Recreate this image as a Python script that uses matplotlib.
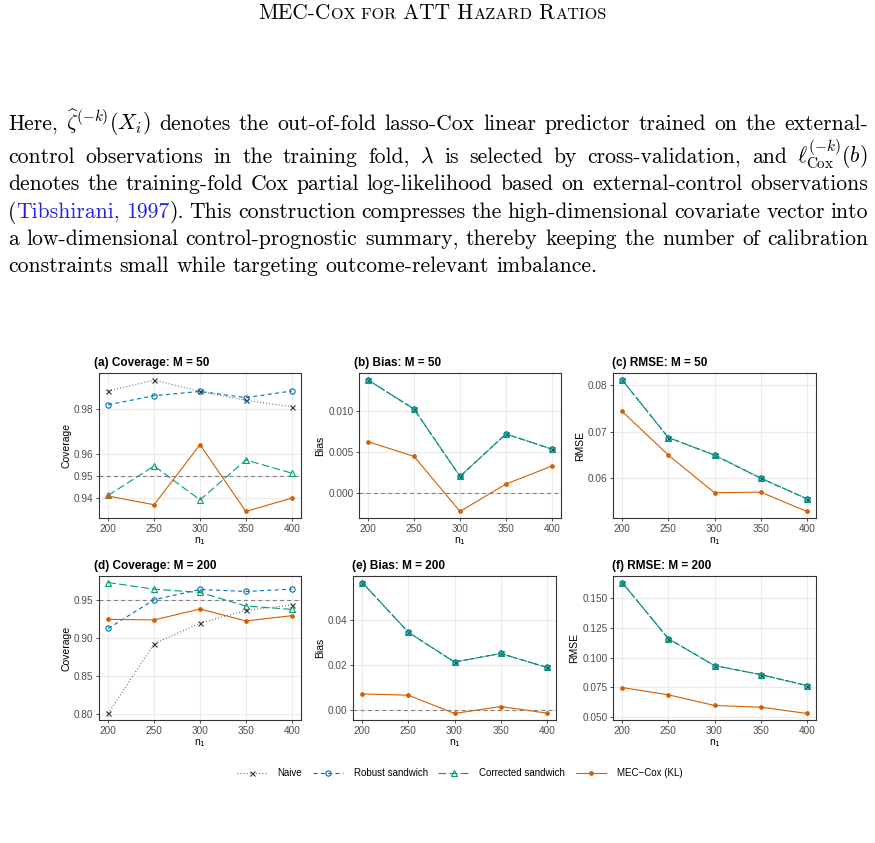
"""Page excerpt: MEC-Cox simulation figure (coverage, bias, RMSE) with surrounding text."""

import re

import matplotlib

matplotlib.use("Agg")
import matplotlib.pyplot as plt

W_PX, H_PX = 875, 843

N1 = [200, 250, 300, 350, 400]
METHODS = ["Naive", "Robust sandwich", "Corrected sandwich", "MEC\u2212Cox (KL)"]

# (a) coverage, M = 50
cov50_naive = [0.9881, 0.9930, 0.9879, 0.9839, 0.9810]
cov50_robust = [0.9819, 0.9860, 0.9879, 0.9851, 0.9881]
cov50_corrected = [0.9412, 0.9544, 0.9392, 0.9571, 0.9512]
cov50_mec = [0.9409, 0.9370, 0.9640, 0.9340, 0.9400]
cov50_ticks = [0.94, 0.95, 0.96, 0.98]
cov50_labels = ["0.94", "0.95", "0.96", "0.98"]

# (b) bias, M = 50 -- the three variance methods share one point estimate
bias50_shared = [0.01378, 0.01024, 0.00203, 0.00720, 0.00537]
bias50_mec = [0.00626, 0.00447, -0.00224, 0.00110, 0.00329]
bias50_ticks = [0.000, 0.005, 0.010]
bias50_labels = ["0.000", "0.005", "0.010"]

# (c) rmse, M = 50
rmse50_shared = [0.08116, 0.06870, 0.06491, 0.05993, 0.05545]
rmse50_mec = [0.07437, 0.06491, 0.05675, 0.05690, 0.05271]
rmse50_ticks = [0.06, 0.07, 0.08]
rmse50_labels = ["0.06", "0.07", "0.08"]

# (d) coverage, M = 200
cov200_naive = [0.8013, 0.8930, 0.9201, 0.9369, 0.9439]
cov200_robust = [0.9131, 0.9509, 0.9644, 0.9618, 0.9648]
cov200_corrected = [0.9735, 0.9648, 0.9605, 0.9426, 0.9382]
cov200_mec = [0.9251, 0.9243, 0.9387, 0.9230, 0.9299]
cov200_ticks = [0.80, 0.85, 0.90, 0.95]
cov200_labels = ["0.80", "0.85", "0.90", "0.95"]

# (e) bias, M = 200
bias200_shared = [0.05635, 0.03445, 0.02131, 0.02511, 0.01898]
bias200_mec = [0.00730, 0.00672, -0.00131, 0.00175, -0.00117]
bias200_ticks = [0.00, 0.02, 0.04]
bias200_labels = ["0.00", "0.02", "0.04"]

# (f) rmse, M = 200
rmse200_shared = [0.16348, 0.11601, 0.09326, 0.08567, 0.07640]
rmse200_mec = [0.07472, 0.06854, 0.05955, 0.05815, 0.05281]
rmse200_ticks = [0.050, 0.075, 0.100, 0.125, 0.150]
rmse200_labels = ["0.050", "0.075", "0.100", "0.125", "0.150"]

HEADER = [("MEC-C", 1), ("OX FOR", 0), (" ATT H", 1), ("AZARD", 0), (" R", 1), ("ATIOS", 0)]
PARAGRAPH = [
    r"Here, $\widehat{\zeta}^{(-k)}(X_i)$ denotes the out-of-fold lasso-Cox linear predictor trained on the external-",
    r"control observations in the training fold, $\lambda$ is selected by cross-validation, and $\ell^{(-k)}_{\mathrm{Cox}}(b)$",
    "denotes the training-fold Cox partial log-likelihood based on external-control observations",
    "(<Tibshirani,> <1997>). This construction compresses the high-dimensional covariate vector into",
    "a low-dimensional control-prognostic summary, thereby keeping the number of calibration",
    "constraints small while targeting outcome-relevant imbalance.",
]
PARA_BASELINES = [130, 163, 190, 217.5, 245, 272]

STYLES = {
    "Naive": dict(color="#555555", dashes=(0.8, 2.0), marker="x", ms=3.6, mfc="none",
                  mec="#333333", mew=0.8),
    "Robust sandwich": dict(color="#0072B2", dashes=(3.6, 3.0), marker="o", ms=3.8,
                            mfc="none", mew=0.8),
    "Corrected sandwich": dict(color="#009E73", dashes=(7.0, 3.0), marker="^", ms=4.6,
                               mfc="none", mew=0.8),
    "MEC\u2212Cox (KL)": dict(color="#D55E00", ls="-", marker="o", ms=3.4, mew=0),
}

fig = plt.figure(figsize=(W_PX / 100, H_PX / 100), dpi=100)
renderer = fig.canvas.get_renderer()


def fx(x):
    return x / W_PX


def fy(y):
    return 1 - y / H_PX


def put(x, y, s, **kw):
    return fig.text(fx(x), fy(y), s, ha="left", va="baseline", **kw)


def width(t):
    return t.get_window_extent(renderer).width


# running header in faked small caps
HEAD_SIZE = 15.4
pieces = [put(0, 19, s, family="cmr10", size=HEAD_SIZE * (1 if big else 0.76)) for s, big in HEADER]
total = sum(width(p) for p in pieces)
x = 432.5 - total / 2
for p in pieces:
    p.set_x(fx(x))
    x += width(p)

# justified paragraph
PARA = dict(family="cmr10", size=15.6, math_fontfamily="cm")
LINK = "#2323E0"
LEFT, RIGHT = 8, 868
for i, (line, base) in enumerate(zip(PARAGRAPH, PARA_BASELINES)):
    words = []
    for w in line.split(" "):
        segs = []
        for part in re.split(r"(<[^>]*>)", w):
            if not part:
                continue
            if part.startswith("<"):
                segs.append(put(0, base, part[1:-1], color=LINK, **PARA))
            else:
                segs.append(put(0, base, part, color="black", **PARA))
        words.append(segs)
    widths = [sum(width(s) for s in segs) for segs in words]
    if i < len(PARAGRAPH) - 1:
        gap = (RIGHT - LEFT - sum(widths)) / (len(words) - 1)
    else:
        gap = 0.333 * PARA["size"] * 100 / 72
    x = LEFT
    for segs, wd in zip(words, widths):
        xx = x
        for s in segs:
            s.set_x(fx(xx))
            xx += width(s)
        x += wd + gap

# panels: (left, top, right, bottom) in pixels, title x in pixels
panels = [
    ("(a) Coverage: M = 50", "Coverage", (99, 373.5, 301, 518), 94,
     [cov50_naive, cov50_robust, cov50_corrected, cov50_mec], 0.95, cov50_ticks, cov50_labels),
    ("(b) Bias: M = 50", "Bias", (359, 373.5, 561, 518), 354,
     [bias50_shared, bias50_shared, bias50_shared, bias50_mec], 0.0, bias50_ticks, bias50_labels),
    ("(c) RMSE: M = 50", "RMSE", (613, 373.5, 816, 518), 612,
     [rmse50_shared, rmse50_shared, rmse50_shared, rmse50_mec], None, rmse50_ticks, rmse50_labels),
    ("(d) Coverage: M = 200", "Coverage", (99, 576, 301, 720), 94,
     [cov200_naive, cov200_robust, cov200_corrected, cov200_mec], 0.95, cov200_ticks, cov200_labels),
    ("(e) Bias: M = 200", "Bias", (353, 576, 556, 720), 352,
     [bias200_shared, bias200_shared, bias200_shared, bias200_mec], 0.0, bias200_ticks, bias200_labels),
    ("(f) RMSE: M = 200", "RMSE", (613, 576, 816, 720), 612,
     [rmse200_shared, rmse200_shared, rmse200_shared, rmse200_mec], None, rmse200_ticks, rmse200_labels),
]

SANS = "Liberation Sans"
handles = []
for title, ylabel, (l, t, r, b), tx, series, ref, ticks, labels in panels:
    ax = fig.add_axes([fx(l), fy(b), (r - l) / W_PX, (b - t) / H_PX])
    lines = []
    for name, ys in zip(METHODS, series):
        (ln,) = ax.plot(N1, ys, lw=0.8, label=name, zorder=3, **STYLES[name])
        lines.append(ln)
    if ref is not None:
        ax.axhline(ref, color="#7F7F7F", lw=0.8, dashes=(3.5, 3.0), zorder=2)
    handles = lines
    ax.set_xticks(N1)
    ax.set_xticklabels([str(v) for v in N1])
    ax.set_yticks(ticks)
    ax.set_yticklabels(labels)
    ax.grid(True, color="#EBEBEB", lw=0.8)
    ax.set_axisbelow(True)
    for sp in ax.spines.values():
        sp.set_color("#333333")
        sp.set_linewidth(0.8)
    ax.tick_params(length=2.5, width=0.6, color="#333333", labelsize=7.2, labelcolor="#4D4D4D", pad=1.5)
    for lab in ax.get_xticklabels() + ax.get_yticklabels():
        lab.set_family(SANS)
    ax.set_ylabel(ylabel, family=SANS, size=7.5, labelpad=2)
    ax.set_xlabel("n$_1$", family=SANS, size=7.5, labelpad=1, math_fontfamily="dejavusans")
    put(tx, t - 7.5, title, family=SANS, size=8.5, weight="bold")

fig.legend(handles, METHODS, loc="center", bbox_to_anchor=(fx(459.5), fy(773)), ncol=4,
           frameon=False, prop={"family": SANS, "size": 7}, handlelength=3.1,
           handletextpad=1.1, columnspacing=1.1, numpoints=1)

fig.savefig("out.png", dpi=100, facecolor="white")
